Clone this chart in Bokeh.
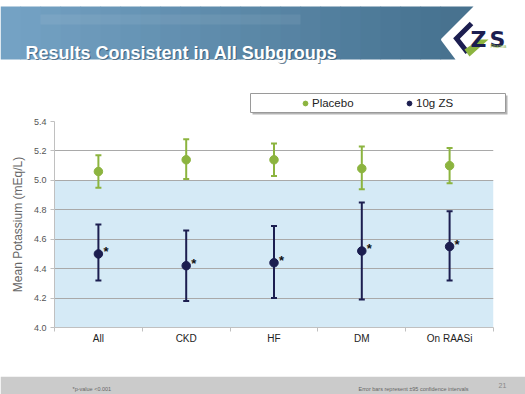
from bokeh.plotting import figure
from bokeh.layouts import column
from bokeh.models import (Range1d, FixedTicker, Whisker, TeeHead, ColumnDataSource,
                          Legend, LegendItem)
from bokeh.core.properties import value
from bokeh.embed import file_html
from bokeh.resources import INLINE

# ---------------- data ----------------
categories = ["All", "CKD", "HF", "DM", "On RAASi"]
placebo_mean = [5.06, 5.14, 5.14, 5.08, 5.10]
placebo_upper = [5.17, 5.28, 5.25, 5.23, 5.22]
placebo_lower = [4.95, 5.01, 5.03, 4.94, 4.98]
zs_mean = [4.50, 4.42, 4.44, 4.52, 4.55]
zs_upper = [4.70, 4.66, 4.69, 4.85, 4.79]
zs_lower = [4.32, 4.18, 4.20, 4.19, 4.32]
y_ticks = [4.0, 4.2, 4.4, 4.6, 4.8, 5.0, 5.2, 5.4]
normal_low, normal_high = 4.0, 5.0
title_text = "Results Consistent in All Subgroups"
ylabel = "Mean Potassium (mEq/L)"
series_names = ["Placebo", "10g ZS"]
footnote_left = "*p-value <0.001"
footnote_right = "Error bars represent \u00b195 confidence intervals"
page_number = "21"

GREEN = "#8cb43f"
NAVY = "#1c1e50"
FONT = "Liberation Sans"

W = 525
H_HEAD, H_MAIN, H_FOOT = 115, 261, 18


def deco_figure(height, y0, y1):
    f = figure(width=W, height=height, x_range=Range1d(0, W), y_range=Range1d(y1, y0),
               output_backend="svg", toolbar_location=None, x_axis_type=None,
               y_axis_type=None, min_border=0, min_border_left=0, min_border_right=0,
               min_border_top=0, min_border_bottom=0, outline_line_color=None,
               frame_align=False)
    f.xgrid.visible = False
    f.ygrid.visible = False
    return f


# ---------------- header ----------------
ph = deco_figure(H_HEAD, 0, H_HEAD)

n = 22
c0 = (116, 162, 196)
c1 = (72, 116, 146)
lefts, rights, cols = [], [], []
for i in range(n):
    t = i / (n - 1)
    c = tuple(int(round(c0[k] + (c1[k] - c0[k]) * t)) for k in range(3))
    lefts.append(i * 440 / n)
    rights.append((i + 1) * 440 / n + 0.6)
    cols.append("#%02x%02x%02x" % c)
ph.quad(left=lefts, right=rights, top=6, bottom=59, color=cols, line_color=None)
ph.patch([440, 473, 440, 455, 440], [6, 6, 39, 59, 59], color="#48728f", line_color=None)
ph.quad(left=[40], right=[300], top=[14], bottom=[24], color="white", alpha=0.07,
        line_color=None)

ph.text(x=[26], y=[53], text=[title_text], text_color="#2c4d66", text_alpha=0.7,
        text_font=value(FONT), text_font_style="bold", text_font_size="18px",
        text_baseline="alphabetic")
ph.text(x=[25], y=[52], text=[title_text], text_color="white",
        text_font=value(FONT), text_font_style="bold", text_font_size="18px",
        text_baseline="alphabetic")

# logo
ph.line([471, 456, 467], [23, 38, 52], line_width=5, color=NAVY, line_join="miter")
ph.patch([464, 469, 488, 479], [49, 56, 39, 39], color=GREEN, line_color=None)
ph.text(x=[470], y=[38.5], text=["Z"], text_color=NAVY, text_font=value("DejaVu Sans"),
        text_font_style="bold", text_font_size="22px", text_baseline="alphabetic")
ph.text(x=[489], y=[38.5], text=["S"], text_color=NAVY, text_font=value("DejaVu Sans"),
        text_font_style="bold", text_font_size="22px", text_baseline="alphabetic")
ph.text(x=[490], y=[45.5], text=["Pharma"], text_color=GREEN, text_font=value(FONT),
        text_font_size="4.5px", text_baseline="alphabetic")

# legend box with shadow
ph.quad(left=[252], right=[507], top=[95], bottom=[114], color="#b4b4b4", line_color=None)
ph.quad(left=[250], right=[505], top=[93], bottom=[112], fill_color="white",
        line_color="#9a9a9a", line_width=1)
r_pl = ph.scatter(x=[-100], y=[-100], size=7, color=GREEN)
r_zs = ph.scatter(x=[-100], y=[-100], size=7, color=NAVY)
lg = Legend(items=[LegendItem(label=series_names[0], renderers=[r_pl]),
                   LegendItem(label=series_names[1], renderers=[r_zs])],
            location=(299, 6), orientation="horizontal",
            border_line_color=None, background_fill_alpha=0,
            padding=0, spacing=1, margin=0, glyph_width=12, glyph_height=12,
            label_standoff=1, label_width=90, label_height=12,
            label_text_font=FONT, label_text_font_size="11.5px",
            label_text_color="#222222")
ph.add_layout(lg, "center")

# ---------------- main chart ----------------
p = figure(width=W, height=H_MAIN, x_range=Range1d(0, len(categories)),
           y_range=Range1d(y_ticks[0], y_ticks[-1]),
           output_backend="svg", toolbar_location=None,
           min_border_left=54, min_border_right=32, min_border_top=6, min_border_bottom=49,
           outline_line_color=None, frame_align=False)

xs = [i + 0.5 for i in range(len(categories))]

p.quad(left=[0], right=[len(categories)], bottom=[normal_low], top=[normal_high],
       color="#d5eaf6", line_color=None, level="image")

p.xgrid.visible = False
p.ygrid.grid_line_color = "#a9a9a9"
p.ygrid.grid_line_width = 1
p.ygrid.ticker = FixedTicker(ticks=y_ticks)

p.yaxis.ticker = FixedTicker(ticks=y_ticks)
p.yaxis.major_label_overrides = {t: "%.1f" % t for t in y_ticks}
p.yaxis.major_label_text_font = FONT
p.yaxis.major_label_text_font_size = "9px"
p.yaxis.major_label_text_color = "#555555"
p.yaxis.axis_line_color = "#c0c0c0"
p.yaxis.major_tick_line_color = "#c0c0c0"
p.yaxis.major_tick_out = 4
p.yaxis.major_tick_in = 0
p.yaxis.minor_tick_line_color = None
p.yaxis.major_label_standoff = 4
p.yaxis.axis_label = ylabel
p.yaxis.axis_label_text_font = FONT
p.yaxis.axis_label_text_font_style = "normal"
p.yaxis.axis_label_text_font_size = "12px"
p.yaxis.axis_label_text_color = "#666666"
p.yaxis.axis_label_standoff = 6

p.xaxis.ticker = FixedTicker(ticks=xs, minor_ticks=list(range(len(categories) + 1)))
p.xaxis.major_label_overrides = {x: c for x, c in zip(xs, categories)}
p.xaxis.major_label_text_font = FONT
p.xaxis.major_label_text_font_size = "10px"
p.xaxis.major_label_text_color = "#222222"
p.xaxis.major_tick_line_color = None
p.xaxis.major_tick_out = 0
p.xaxis.major_tick_in = 0
p.xaxis.minor_tick_line_color = "#c0c0c0"
p.xaxis.minor_tick_out = 4
p.xaxis.minor_tick_in = 0
p.xaxis.axis_line_color = "#c0c0c0"
p.xaxis.major_label_standoff = 1

src_pl = ColumnDataSource(dict(x=xs, y=placebo_mean, up=placebo_upper, lo=placebo_lower))
src_zs = ColumnDataSource(dict(x=xs, y=zs_mean, up=zs_upper, lo=zs_lower))

for src, col in ((src_pl, GREEN), (src_zs, NAVY)):
    w = Whisker(base="x", upper="up", lower="lo", source=src, line_color=col, line_width=2,
                upper_head=TeeHead(size=6, line_color=col, line_width=2),
                lower_head=TeeHead(size=6, line_color=col, line_width=2))
    p.add_layout(w)
    p.scatter("x", "y", source=src, size=8.5, color=col)

p.text(x=xs, y=zs_mean, text=["*"] * len(xs), x_offset=5, y_offset=-2,
       text_font=value(FONT), text_font_style="bold", text_font_size="13px",
       text_color="#111111", text_baseline="middle", text_align="left")

# ---------------- footer ----------------
pf = deco_figure(H_FOOT, 376, 394)
pf.quad(left=[0], right=[W], top=[376], bottom=[394], color="#cbcbcb", line_color=None)
pf.text(x=[72], y=[388], text=[footnote_left], text_font=value(FONT),
        text_font_size="5.5px", text_color="#666666", text_baseline="middle")
pf.text(x=[358], y=[388], text=[footnote_right], text_font=value(FONT),
        text_font_size="5.5px", text_color="#666666", text_baseline="middle")
pf.text(x=[498], y=[385], text=[page_number], text_font=value(FONT), text_font_size="7px",
        text_color="#888888", text_baseline="middle")

layout = column(ph, p, pf, spacing=0)
open("out.html", "w").write(file_html(layout, INLINE))
